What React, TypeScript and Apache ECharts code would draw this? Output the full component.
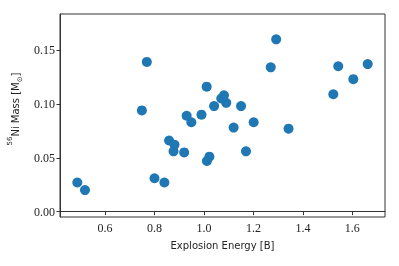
import React, { useEffect, useRef } from "react";
import * as echarts from "echarts";

const explosionEnergy = [
  0.488, 0.519, 0.749, 0.769, 0.8, 0.84, 0.859, 0.881, 0.877, 0.92, 0.93, 0.949,
  0.99, 1.011, 1.012, 1.022, 1.041, 1.07, 1.081, 1.09, 1.12, 1.15, 1.17, 1.201,
  1.27, 1.292, 1.342, 1.523, 1.543, 1.604, 1.662,
];
const niMass = [
  0.027, 0.02, 0.094, 0.139, 0.031, 0.027, 0.066, 0.062, 0.056, 0.055, 0.089, 0.083,
  0.09, 0.116, 0.047, 0.051, 0.098, 0.105, 0.108, 0.101, 0.078, 0.098, 0.056, 0.083,
  0.134, 0.16, 0.077, 0.109, 0.135, 0.123, 0.137,
];
const xTicks = [0.6, 0.8, 1.0, 1.2, 1.4, 1.6];
const yTicks = [0.0, 0.05, 0.1, 0.15];

const xLabel = "Explosion Energy [B]";

export default function App() {
  const ref = useRef<HTMLDivElement>(null);
  useEffect(() => {
    const chart = echarts.init(ref.current!, null, { renderer: "svg" });
    const points = explosionEnergy.map((x, i) => [x, niMass[i]]);
    const serif = "Liberation Serif";
    chart.setOption({
      animation: false,
      textStyle: { fontFamily: serif, fontSize: 12, color: "#222" },
      grid: {
        left: 60,
        right: 14,
        top: 14,
        bottom: 49,
        show: true,
        borderColor: "#333",
        borderWidth: 1,
      },
      xAxis: {
        type: "value",
        min: 0.418,
        max: 1.732,
        axisLine: { show: true, lineStyle: { color: "#333", width: 1 } },
        axisTick: { show: true, length: 3.5, customValues: xTicks, lineStyle: { color: "#333" } },
        axisLabel: {
          customValues: xTicks,
          formatter: (v: number) => v.toFixed(1),
          margin: 5,
          fontFamily: serif,
          fontSize: 12,
          color: "#222",
        },
        splitLine: { show: false },
      },
      yAxis: {
        type: "value",
        min: -0.005,
        max: 0.1835,
        axisLine: { show: true, lineStyle: { color: "#333", width: 1 } },
        axisTick: { show: true, length: 3.5, customValues: yTicks, lineStyle: { color: "#333" } },
        axisLabel: {
          customValues: yTicks,
          formatter: (v: number) => v.toFixed(2),
          margin: 5,
          fontFamily: serif,
          fontSize: 12,
          color: "#222",
        },
        splitLine: { show: false },
      },
      graphic: [
        {
          type: "text",
          x: 222.5,
          y: 245,
          style: {
            text: xLabel,
            font: "10px 'DejaVu Sans'",
            fill: "#222",
            align: "center",
            verticalAlign: "middle",
          },
        },
        {
          type: "text",
          x: 13,
          y: 109,
          rotation: Math.PI / 2,
          style: {
            text: "{sup|56}{n|Ni Mass [M}{sub|⊙}{n|]}",
            fill: "#222",
            align: "center",
            verticalAlign: "middle",
            rich: {
              n: { fontFamily: "DejaVu Sans", fontSize: 10, fill: "#222", verticalAlign: "bottom", lineHeight: 14 },
              sup: { fontFamily: "DejaVu Sans", fontSize: 7, fill: "#222", verticalAlign: "top", lineHeight: 14 },
              sub: { fontFamily: "DejaVu Sans", fontSize: 7, fill: "#222", verticalAlign: "bottom", lineHeight: 10, padding: [0, 0, -3, 0] },
            },
          },
        },
      ],
      series: [
        {
          type: "scatter",
          data: points,
          symbolSize: 10,
          itemStyle: { color: "#1f77b4", opacity: 1 },
        },
      ],
    });
    return () => chart.dispose();
  }, []);
  return (
    <div
      ref={ref}
      style={{ position: "fixed", left: 0, top: 0, width: 399, height: 266 }}
    />
  );
}
